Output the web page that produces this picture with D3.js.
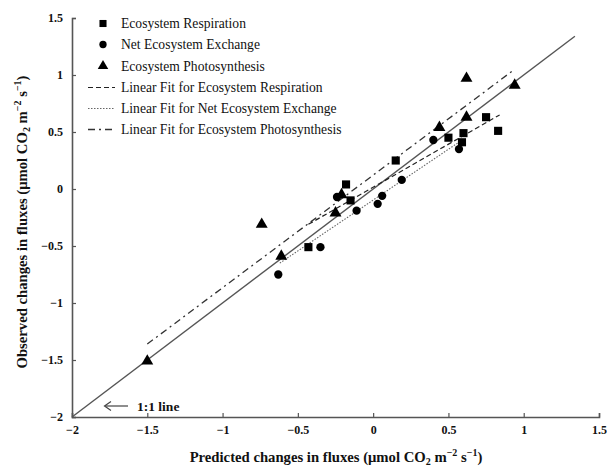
<!DOCTYPE html>
<html><head><meta charset="utf-8">
<script src="https://cdn.jsdelivr.net/npm/d3@7"></script>
<style>
html,body{margin:0;padding:0;background:#fff;}
svg{display:block;}
text{font-family:"Liberation Serif","Times New Roman",serif;fill:#111;}
</style></head>
<body>
<svg id="chart" width="607" height="467"></svg>
<script>
// Data
const respX = [-0.43, -0.18, -0.15, 0.15, 0.50, 0.60, 0.59, 0.75, 0.83];
const respY = [-0.51, 0.04, -0.10, 0.25, 0.45, 0.49, 0.41, 0.63, 0.51];
const neeX = [-0.63, -0.35, -0.24, -0.11, 0.03, 0.06, 0.19, 0.40, 0.57];
const neeY = [-0.75, -0.51, -0.07, -0.19, -0.13, -0.06, 0.08, 0.43, 0.35];
const phoX = [-1.50, -0.74, -0.61, -0.25, -0.21, 0.44, 0.62, 0.62, 0.94];
const phoY = [-1.51, -0.31, -0.59, -0.21, -0.05, 0.54, 0.63, 0.97, 0.91];
// fitted line endpoints [x0, y0, x1, y1]
const fitResp = [-0.43, -0.31, 0.84, 0.65];
const fitNee = [-0.62, -0.65, 0.58, 0.42];
const fitPho = [-1.50, -1.36, 0.94, 1.05];
const oneToOne = [-2, -2, 1.34, 1.34];
const ticks = [-2, -1.5, -1, -0.5, 0, 0.5, 1, 1.5];
const tickLabels = ["−2", "−1.5", "−1", "−0.5", "0", "0.5", "1", "1.5"];
const legendLabels = ["Ecosystem Respiration", "Net Ecosystem Exchange", "Ecosystem Photosynthesis",
  "Linear Fit for Ecosystem Respiration", "Linear Fit for Net Ecosystem Exchange", "Linear Fit for Ecosystem Photosynthesis"];

const svg = d3.select("#chart");
const x = d3.scaleLinear().domain([-2, 1.5]).range([72, 599]);
const y = d3.scaleLinear().domain([-2, 1.5]).range([417, 18]);
const axisColor = "#555";

// Axes
const xAxis = d3.axisBottom(x).tickValues(ticks).tickSize(-4).tickPadding(8)
  .tickFormat((d, i) => tickLabels[i]);
const yAxis = d3.axisLeft(y).tickValues(ticks).tickSize(-4).tickPadding(9)
  .tickFormat((d, i) => tickLabels[i]);
const gx = svg.append("g").attr("transform", "translate(0,417)").call(xAxis);
const gy = svg.append("g").attr("transform", "translate(72,0)").call(yAxis);
[gx, gy].forEach(g => {
  g.select(".domain").attr("stroke", axisColor).attr("stroke-width", 1.6);
  g.selectAll(".tick line").attr("stroke", axisColor).attr("stroke-width", 1.2);
  g.selectAll(".tick text").attr("font-family", "Liberation Serif").attr("font-size", 12)
    .attr("font-weight", "bold").attr("fill", "#111");
});

// Lines
const line = (seg) => svg.append("line")
  .attr("x1", x(seg[0])).attr("y1", y(seg[1])).attr("x2", x(seg[2])).attr("y2", y(seg[3]));
line(oneToOne).attr("stroke", "#555").attr("stroke-width", 1.4);
line(fitPho).attr("stroke", "#333").attr("stroke-width", 1.3).attr("stroke-dasharray", "7,4,2,4");
line(fitResp).attr("stroke", "#222").attr("stroke-width", 1.2).attr("stroke-dasharray", "5,3");
line(fitNee).attr("stroke", "#666").attr("stroke-width", 1.1).attr("stroke-dasharray", "1.5,1.5");

// Markers
const sq = d3.symbol().type(d3.symbolSquare).size(66);
const ci = d3.symbol().type(d3.symbolCircle).size(54);
const tr = d3.symbol().type(d3.symbolTriangle).size(62);
function pts(xs, ys, sym) {
  svg.append("g").selectAll("path").data(xs).join("path")
    .attr("d", sym).attr("fill", "#000")
    .attr("transform", (d, i) => `translate(${x(d)},${y(ys[i])})`);
}
pts(respX, respY, sq);
pts(neeX, neeY, ci);
pts(phoX, phoY, tr);

// Legend
const rowY = [23.5, 44.5, 66, 87.5, 108.5, 129.5];
const lg = svg.append("g");
const syms = [d3.symbol().type(d3.symbolSquare).size(50), d3.symbol().type(d3.symbolCircle).size(42), d3.symbol().type(d3.symbolTriangle).size(48)];
syms.forEach((s, i) => lg.append("path").attr("d", s).attr("transform", `translate(103,${rowY[i]})`).attr("fill", "#000"));
const dashes = [["#222", 1.2, "5,3"], ["#666", 1.1, "1.5,1.5"], ["#333", 1.3, "7,4,2,4"]];
dashes.forEach((d, i) => lg.append("line").attr("x1", 88).attr("x2", 115)
  .attr("y1", rowY[i + 3]).attr("y2", rowY[i + 3])
  .attr("stroke", d[0]).attr("stroke-width", d[1]).attr("stroke-dasharray", d[2]));
legendLabels.forEach((t, i) => lg.append("text").attr("x", 121).attr("y", rowY[i] + 4.5)
  .attr("font-size", 13.6).text(t));

// 1:1 annotation
svg.append("line").attr("x1", 105).attr("x2", 128).attr("y1", 406).attr("y2", 406)
  .attr("stroke", "#444").attr("stroke-width", 1.2);
svg.append("path").attr("d", "M111,401.5 L104.5,406 L111,410.5").attr("fill", "none")
  .attr("stroke", "#444").attr("stroke-width", 1.2);
svg.append("text").attr("x", 137).attr("y", 410.5).attr("font-size", 13.5).attr("font-weight", "bold")
  .text("1:1 line");

// Axis titles
function title(sel) {
  sel.append("tspan").text(sel.attr("data-t") + " (μmol CO");
  sel.append("tspan").attr("font-size", 10).attr("dy", 3).text("2");
  sel.append("tspan").attr("dy", -3).text(" m");
  sel.append("tspan").attr("font-size", 10).attr("dy", -6).text("−2");
  sel.append("tspan").attr("dy", 6).text(" s");
  sel.append("tspan").attr("font-size", 10).attr("dy", -6).text("−1");
  sel.append("tspan").attr("dy", 6).text(")");
}
svg.append("text").attr("x", 336).attr("y", 462).attr("text-anchor", "middle")
  .attr("font-size", 14.7).attr("font-weight", "bold")
  .attr("data-t", "Predicted changes in fluxes").call(title);
svg.append("text").attr("transform", "translate(27,222) rotate(-90)").attr("text-anchor", "middle")
  .attr("font-size", 14.7).attr("font-weight", "bold")
  .attr("data-t", "Observed changes in fluxes").call(title);
</script>
</body></html>
